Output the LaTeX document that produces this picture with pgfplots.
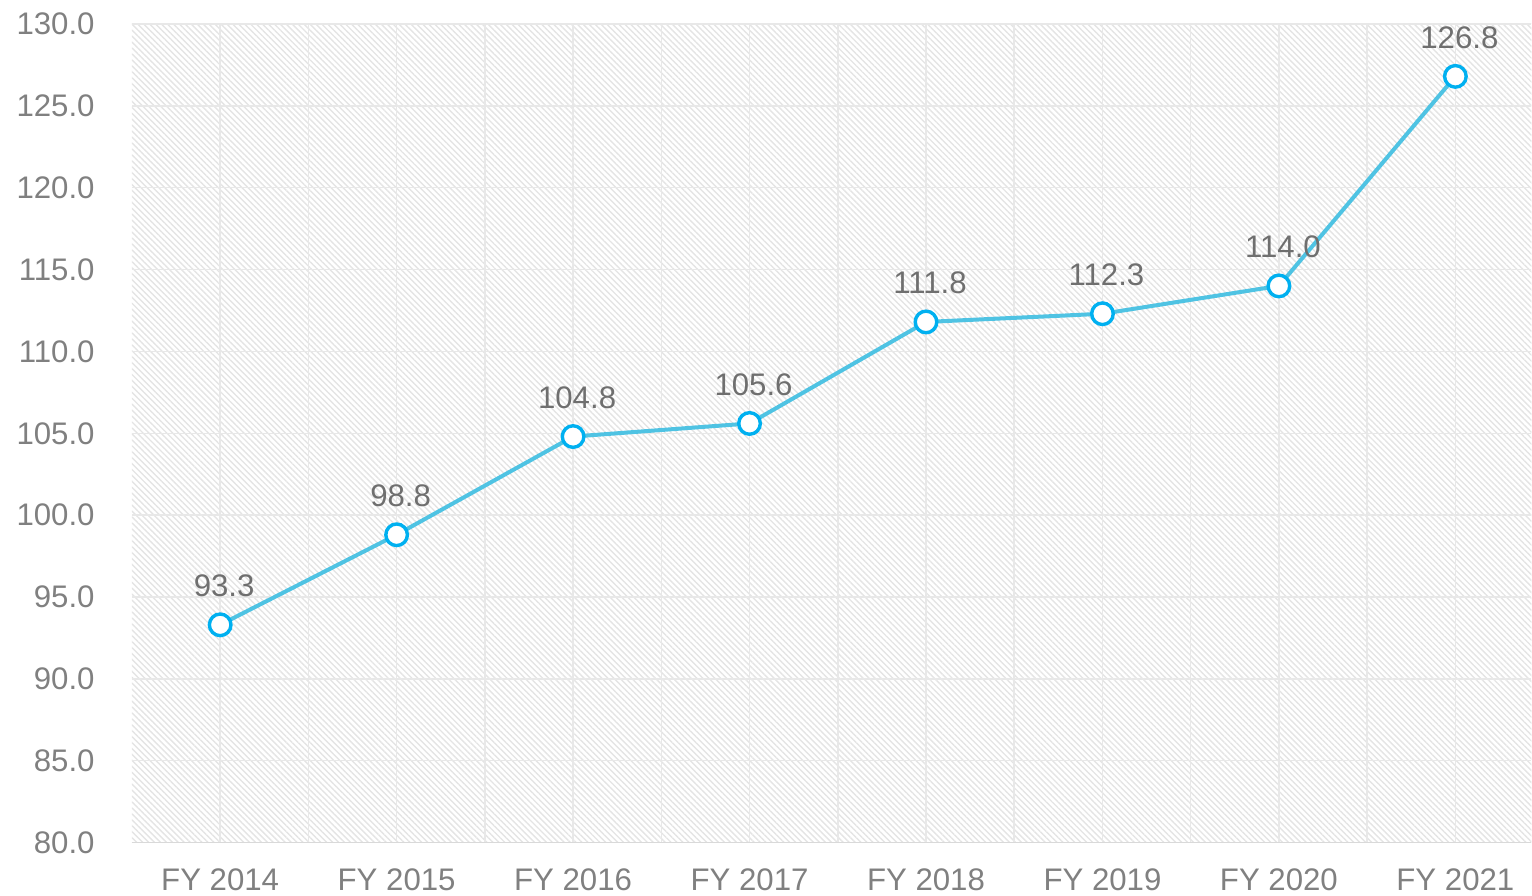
\documentclass[border=0pt]{standalone}
\usepackage{fontspec}
\setmainfont{Liberation Sans}
\usepackage{pgfplots}
\pgfplotsset{compat=1.18}
\usetikzlibrary{patterns.meta}
\definecolor{linec}{HTML}{4FC3E3}
\definecolor{markc}{HTML}{00B0F0}
\definecolor{tickc}{HTML}{808080}
\definecolor{labc}{HTML}{6F6F6F}
\definecolor{gridc}{HTML}{E8E8E8}
\definecolor{hatchc}{HTML}{E4E4E4}
\definecolor{axisc}{HTML}{D9D9D9}
\begin{document}
\begin{tikzpicture}
\begin{axis}[name=ax, scale only axis, width=700pt, height=409.5pt,
  xmin=-0.5, xmax=7.43, ymin=80, ymax=130,
  xtick={0,...,7},
  xticklabels={FY 2014,FY 2015,FY 2016,FY 2017,FY 2018,FY 2019,FY 2020,FY 2021},
  minor xtick={0.5,1.5,...,6.5},
  ytick={80,85,...,130},
  /pgf/number format/assume math mode=true,
  yticklabel={\pgfmathprintnumber[fixed,fixed zerofill,precision=1]{\tick}},
  axis x line=bottom, axis y line=left,
  x axis line style={draw=axisc, line width=0.75pt, -},
  y axis line style={draw=none},
  major tick length=0pt, minor tick length=0pt,
  grid=both,
  major grid style={draw=gridc, line width=0.75pt},
  minor grid style={draw=gridc, line width=0.75pt},
  axis background/.style={pattern={Lines[angle=-45,distance=2.1pt,line width=0.7pt]}, pattern color=hatchc},
  ticklabel style={font=\fontsize{15.6}{18}\selectfont, text=tickc, inner sep=0pt},
  xticklabel style={anchor=base, yshift=-24pt},
  yticklabel style={anchor=east, xshift=-18.5pt},
  clip=false,
  nodes near coords={\pgfmathprintnumber[fixed,fixed zerofill,precision=1]{\pgfplotspointmeta}},
  every node near coord/.style={anchor=south, inner sep=0pt, yshift=13pt, xshift=2pt, font=\fontsize{15.6}{18}\selectfont, text=labc},
]
\addplot[draw=linec, line width=2pt, mark=*, mark size=5.4pt,
  mark options={fill=white, draw=markc, line width=1.7pt}]
  coordinates {(0,93.3) (1,98.8) (2,104.8) (3,105.6) (4,111.8) (5,112.3) (6,114.0) (7,126.8)};
\end{axis}
\path (ax.south west) ++(-66pt,-26.5pt);
\path (ax.north east) ++(0,12pt);
\end{tikzpicture}
\end{document}
